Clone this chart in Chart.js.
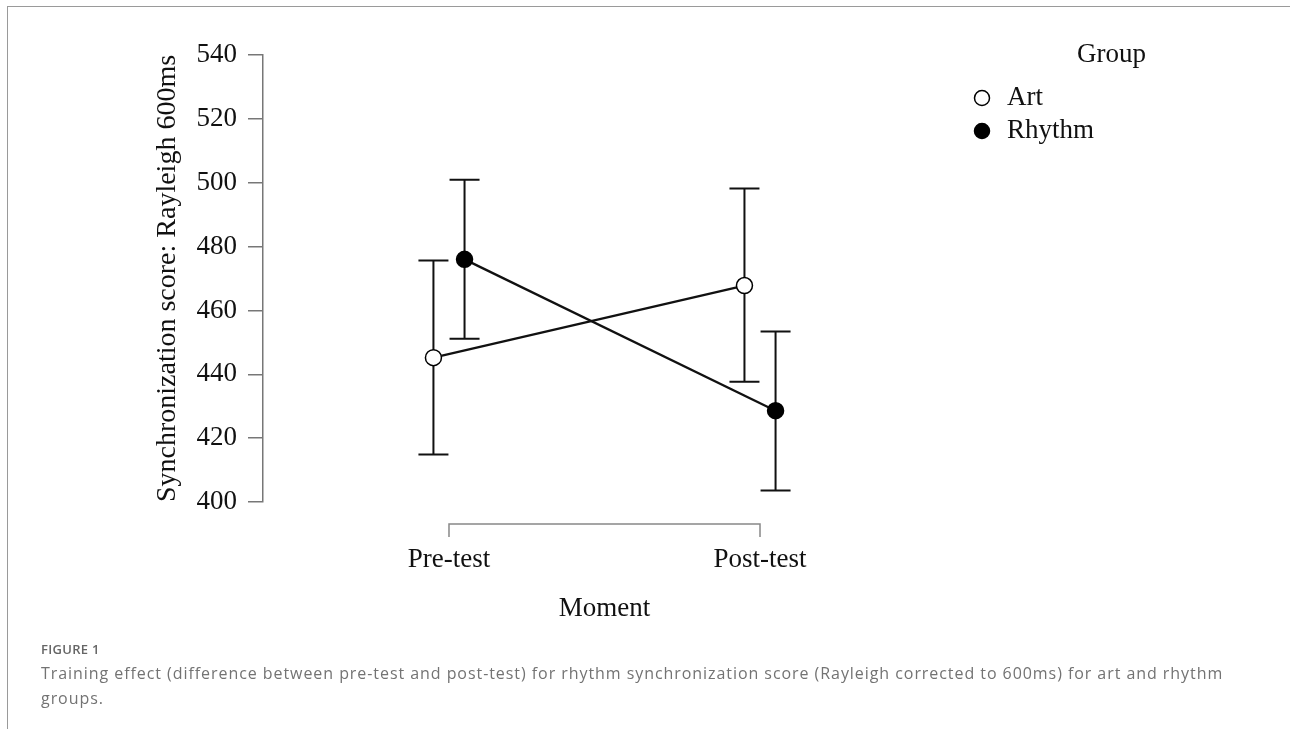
<!DOCTYPE html>
<html>
<head>
<meta charset="utf-8">
<script src="https://cdn.jsdelivr.net/npm/chart.js@4"></script>
<style>
  html, body { margin: 0; padding: 0; background: #fff; }
  #wrap { position: relative; width: 1290px; height: 729px; overflow: hidden; }
  #chart { position: absolute; left: 0; top: 0; }
  .frame-top { position: absolute; left: 7px; top: 6px; width: 1283px; height: 0; border-top: 1.5px solid #9a9a9a; }
  .frame-left { position: absolute; left: 7px; top: 6px; width: 0; height: 723px; border-left: 1.5px solid #9a9a9a; }
  #caption { position: absolute; left: 41px; top: 640px; font-family: "Open Sans", Lato, sans-serif; color: #737373; }
  #caption .fig { font-size: 13px; font-weight: 600; color: #666; letter-spacing: 0.3px; margin-bottom: 3px; }
  #caption .txt { font-size: 16px; line-height: 25px; letter-spacing: 0.94px; white-space: nowrap; }
</style>
</head>
<body>
<div id="wrap">
  <canvas id="chart" width="1290" height="729"></canvas>
  <div class="frame-top"></div>
  <div class="frame-left"></div>
  <div id="caption">
    <div class="fig">FIGURE 1</div>
    <div class="txt">Training effect (difference between pre-test and post-test) for rhythm synchronization score (Rayleigh corrected to 600ms) for art and rhythm<br>groups.</div>
  </div>
</div>
<script>
const moments = ['Pre-test', 'Post-test'];
const groups = ['Art', 'Rhythm'];
const yTicks = [400, 420, 440, 460, 480, 500, 520, 540];

// means and error bar ends
const artMean = [445.2, 467.8];
const artLow = [414.9, 437.7];
const artHigh = [475.6, 498.2];
const rhythmMean = [476.0, 428.6];
const rhythmLow = [451.1, 403.6];
const rhythmHigh = [500.9, 453.4];

const dodge = 0.05;
const serif = "'Liberation Serif', 'Times New Roman', serif";
const fontSize = 27;

const series = [
    { name: groups[0], mean: artMean, low: artLow, high: artHigh, shift: -dodge, fill: '#ffffff' },
    { name: groups[1], mean: rhythmMean, low: rhythmLow, high: rhythmHigh, shift: dodge, fill: '#000000' }
];

const errorBars = {
    id: 'errorBars',
    beforeDatasetsDraw(chart) {
        const ctx = chart.ctx;
        const xs = chart.scales.x, ys = chart.scales.y;
        ctx.save();
        ctx.strokeStyle = '#111';
        ctx.lineWidth = 2;
        series.forEach(s => {
            s.mean.forEach((m, i) => {
                const x = xs.getPixelForValue(i + s.shift);
                const y1 = ys.getPixelForValue(s.low[i]);
                const y2 = ys.getPixelForValue(s.high[i]);
                ctx.beginPath();
                ctx.moveTo(x, y1); ctx.lineTo(x, y2);
                ctx.moveTo(x - 15, y1); ctx.lineTo(x + 15, y1);
                ctx.moveTo(x - 15, y2); ctx.lineTo(x + 15, y2);
                ctx.stroke();
            });
        });
        // bracket style x axis
        const yb = chart.chartArea.bottom + 22;
        const xa = xs.getPixelForValue(0), xb = xs.getPixelForValue(moments.length - 1);
        ctx.strokeStyle = '#888';
        ctx.lineWidth = 1.5;
        ctx.beginPath();
        ctx.moveTo(xa, yb + 13); ctx.lineTo(xa, yb); ctx.lineTo(xb, yb); ctx.lineTo(xb, yb + 13);
        ctx.stroke();
        ctx.restore();
    }
};

const groupLegend = {
    id: 'groupLegend',
    afterDraw(chart) {
        const ctx = chart.ctx;
        ctx.save();
        ctx.font = fontSize + 'px ' + serif;
        ctx.fillStyle = '#111';
        ctx.textBaseline = 'middle';
        ctx.textAlign = 'left';
        ctx.fillText('Group', 1077, 55);
        series.forEach((s, k) => {
            const y = 98 + k * 33;
            ctx.beginPath();
            ctx.arc(982, y, 7.5, 0, Math.PI * 2);
            ctx.fillStyle = s.fill;
            ctx.fill();
            ctx.lineWidth = 1.5;
            ctx.strokeStyle = '#000';
            ctx.stroke();
            ctx.fillStyle = '#111';
            ctx.fillText(s.name, 1007, y);
        });
        ctx.restore();
    }
};

const ctx = document.getElementById('chart').getContext('2d');
new Chart(ctx, {
    type: 'scatter',
    data: {
        datasets: series.map(s => ({
            label: s.name,
            data: s.mean.map((m, i) => ({ x: i + s.shift, y: m })),
            showLine: true,
            borderColor: '#111',
            borderWidth: 2.3,
            pointRadius: 8,
            pointBackgroundColor: s.fill,
            pointBorderColor: '#000',
            pointBorderWidth: 1.5
        }))
    },
    options: {
        responsive: false,
        animation: false,
        layout: { padding: { left: 0, top: 55, right: 344, bottom: 104 } },
        plugins: { legend: { display: false }, tooltip: { enabled: false } },
        scales: {
            x: {
                type: 'linear',
                min: -0.598,
                max: 1.598,
                afterBuildTicks: s => { s.ticks = moments.map((m, i) => ({ value: i })); },
                afterFit: s => { s.height = 123; },
                grid: { display: false, drawTicks: false, tickLength: 0 },
                border: { display: false },
                ticks: {
                    callback: v => moments[v],
                    font: { family: serif, size: fontSize },
                    color: '#111',
                    padding: 42,
                    maxRotation: 0,
                    autoSkip: false
                },
                title: {
                    display: true,
                    text: 'Moment',
                    font: { family: serif, size: fontSize },
                    color: '#111',
                    padding: { top: 0, bottom: 0 }
                }
            },
            y: {
                min: 400,
                max: 540,
                afterBuildTicks: s => { s.ticks = yTicks.map(v => ({ value: v })); },
                afterFit: s => { s.width = 263; },
                grid: { drawOnChartArea: false, drawTicks: true, tickLength: 15, color: '#777', lineWidth: 1.5 },
                border: { display: true, color: '#777', width: 1.5 },
                ticks: {
                    font: { family: serif, size: fontSize },
                    color: '#111',
                    padding: 11
                },
                title: {
                    display: true,
                    text: 'Synchronization score: Rayleigh 600ms',
                    font: { family: serif, size: 28 },
                    color: '#111',
                    padding: { top: 151, bottom: 0 }
                }
            }
        }
    },
    plugins: [errorBars, groupLegend]
});
</script>
</body>
</html>
